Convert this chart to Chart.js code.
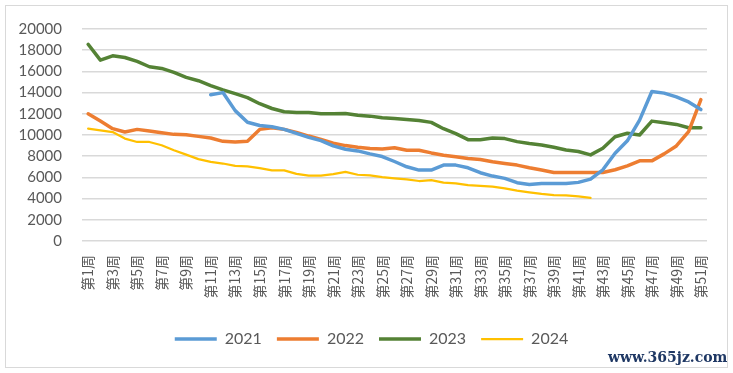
<!DOCTYPE html>
<html>
<head>
<meta charset="utf-8">
<script src="https://cdn.jsdelivr.net/npm/chart.js@4.4.1/dist/chart.umd.min.js"></script>
<style>
	html, body { margin: 0; padding: 0; background: #fff; }
	.wrap { position: relative; width: 733px; height: 373px; }
	.frame { position: absolute; left: 5px; top: 5px; width: 721px; height: 361px; border: 1px solid #d9d9d9; }
	.mark { position: absolute; left: 608px; top: 349px; font: bold 14px "DejaVu Serif", serif; color: #1f3864; }
	canvas { position: absolute; left: 0; top: 0; }
</style>
</head>
<body>
<div class="wrap">
	<div class="frame"></div>
	<canvas id="chart" width="733" height="373"></canvas>
	<div class="mark">www.365jz.com</div>
</div>
<script>
// 周次
const weeks = [
	"第1周", "第2周", "第3周", "第4周", "第5周", "第6周", "第7周", "第8周", "第9周", "第10周",
	"第11周", "第12周", "第13周", "第14周", "第15周", "第16周", "第17周", "第18周", "第19周", "第20周",
	"第21周", "第22周", "第23周", "第24周", "第25周", "第26周", "第27周", "第28周", "第29周", "第30周",
	"第31周", "第32周", "第33周", "第34周", "第35周", "第36周", "第37周", "第38周", "第39周", "第40周",
	"第41周", "第42周", "第43周", "第44周", "第45周", "第46周", "第47周", "第48周", "第49周", "第50周",
	"第51周",
];

const years = ["2021", "2022", "2023", "2024"];

const values2021 = [
	null, null, null, null, null, null, null, null, null, null,
	13800, 14000, 12300, 11200, 10900, 10780, 10530, 10160, 9780, 9470,
	8970, 8660, 8500, 8220, 7970, 7500, 7000, 6690, 6690, 7160,
	7160, 6910, 6440, 6125, 5910, 5500, 5340, 5420, 5420, 5420,
	5530, 5840, 6720, 8280, 9450, 11400, 14100, 13950, 13600, 13120,
	12400,
];

const values2022 = [
	12000, 11310, 10600, 10280, 10530, 10370, 10220, 10060, 10030, 9870,
	9720, 9400, 9340, 9400, 10530, 10690, 10530, 10250, 9900, 9590,
	9220, 9000, 8840, 8720, 8690, 8800, 8560, 8560, 8310, 8090,
	7940, 7780, 7690, 7470, 7310, 7160, 6910, 6690, 6470, 6470,
	6470, 6470, 6470, 6720, 7090, 7560, 7560, 8220, 8970, 10310,
	13340,
];

const values2023 = [
	18560, 17060, 17470, 17310, 16940, 16440, 16280, 15900, 15440, 15120,
	14660, 14250, 13900, 13530, 12950, 12500, 12190, 12120, 12120, 12000,
	12000, 12030, 11870, 11780, 11620, 11550, 11470, 11375, 11190, 10590,
	10125, 9560, 9560, 9720, 9660, 9375, 9190, 9060, 8850, 8590,
	8440, 8125, 8750, 9840, 10160, 10000, 11310, 11160, 11000, 10690,
	10690,
];

const values2024 = [
	10600, 10440, 10280, 9660, 9340, 9340, 9030, 8560, 8150, 7720,
	7470, 7310, 7090, 7030, 6875, 6660, 6660, 6340, 6160, 6160,
	6310, 6530, 6250, 6190, 6030, 5910, 5810, 5660, 5750, 5500,
	5440, 5280, 5190, 5125, 4970, 4750, 4590, 4440, 4330, 4310,
	4220, 4060, null, null, null, null, null, null, null, null,
	null,
];

const yMax = 20000;
const yStep = 2000;

const colors = ["#5b9bd5", "#ed7d31", "#548235", "#ffc000"];
const widths = [3.5, 3.5, 3.5, 2.25];
const series = [values2021, values2022, values2023, values2024];

// 图例整体右移一点，居中于整张图
const legendShift = {
	id: "legendShift",
	afterLayout(chart) {
		chart.legend.left += 18;
		chart.legend.right += 18;
	},
};

const ctx = document.getElementById("chart").getContext("2d");

new Chart(ctx, {
	type: "line",
	data: {
		labels: weeks,
		datasets: years.map((year, i) => ({
			label: year,
			data: series[i],
			borderColor: colors[i],
			backgroundColor: colors[i],
			borderWidth: widths[i],
			borderCapStyle: "round",
			borderJoinStyle: "round",
			pointRadius: 0,
			tension: 0,
			spanGaps: false,
		})),
	},
	plugins: [legendShift],
	options: {
		responsive: false,
		animation: false,
		devicePixelRatio: 1,
		layout: {
			padding: { left: 0, right: 26, top: 20, bottom: 16 },
		},
		plugins: {
			legend: {
				position: "bottom",
				labels: {
					usePointStyle: true,
					pointStyle: "line",
					pointStyleWidth: 42,
					padding: 15,
					color: "#595959",
					font: { family: "Lato", size: 16 },
				},
			},
			tooltip: { enabled: false },
		},
		scales: {
			x: {
				offset: true,
				grid: { display: false, drawTicks: false },
				border: { display: false },
				afterFit: (scale) => {
					scale.height = 75;
				},
				ticks: {
					autoSkip: false,
					minRotation: 90,
					maxRotation: 90,
					padding: 14,
					color: "#595959",
					font: { family: "Noto Sans CJK SC", size: 14 },
					callback: (value, index) => (index % 2 === 0 ? weeks[index] : ""),
				},
			},
			y: {
				min: 0,
				max: yMax,
				grid: { color: "#d9d9d9", lineWidth: 1.5, drawTicks: false },
				border: { display: false },
				afterFit: (scale) => {
					scale.width = 82;
				},
				ticks: {
					stepSize: yStep,
					padding: 20,
					color: "#595959",
					font: { family: "Lato", size: 15 },
					callback: (value) => String(value),
				},
			},
		},
	},
});
</script>
</body>
</html>
